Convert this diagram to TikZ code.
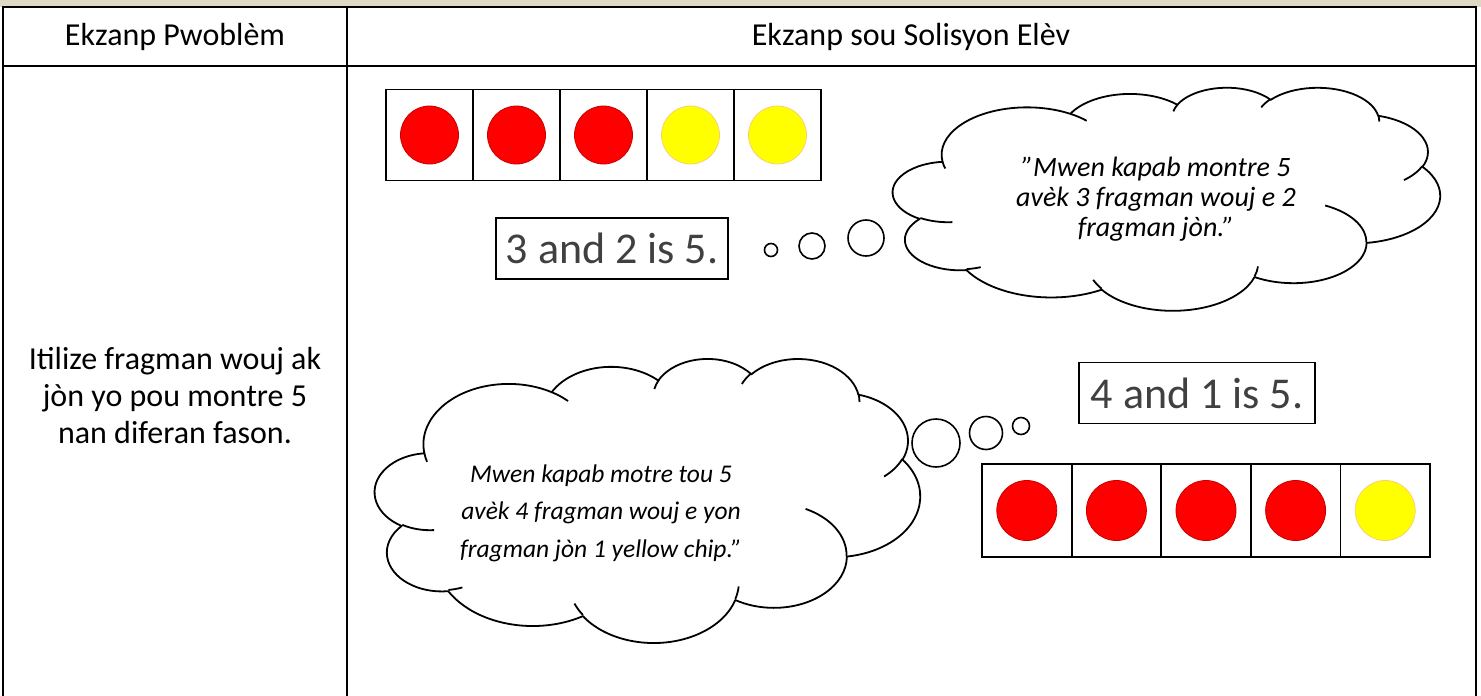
\documentclass[tikz,border=0pt]{standalone}
\usepackage{fontspec}
\setmainfont{Carlito}
\usetikzlibrary{positioning}
\definecolor{bandtan}{HTML}{DDD9C3}
\definecolor{fillred}{HTML}{FF0000}
\definecolor{edgered}{HTML}{C80000}
\definecolor{fillyellow}{HTML}{FFFF00}
\definecolor{edgeyellow}{HTML}{F8CF78}
\definecolor{sumgray}{HTML}{404040}
\tikzset{
  rule/.style={line width=2.6pt},
  frame/.style={draw, line width=1.8pt, inner sep=0pt, minimum width=87pt, minimum height=91pt},
  chip/.style={circle, inner sep=0pt, minimum size=58pt, line width=0.8pt},
  chipred/.style={chip, fill=fillred, draw=edgered},
  chipyellow/.style={chip, fill=fillyellow, draw=edgeyellow},
  sumbox/.style={draw, line width=1.8pt, text=sumgray, inner sep=0pt,
    minimum height=61pt, font=\fontsize{44}{50}\selectfont},
  bubble/.style={circle, draw, line width=1.6pt, inner sep=0pt},
  body/.style={font=\fontsize{32}{37}\selectfont, align=center},
  quote/.style={align=center},
  cloudline/.style={line width=1.8pt, line join=round},
  % arc of an ellipse, angles given as seen on the ellipse (y down)
  cloudarc/.style n args={4}{x radius=#1pt, y radius=#2pt,
    start angle={-atan2(#1*sin(#3),#2*cos(#3))},
    delta angle={-mod(atan2(#1*sin(#3+#4),#2*cos(#3+#4))-atan2(#1*sin(#3),#2*cos(#3))+720,360)}},
  thought/.pic={
    \draw[cloudline] (39,143.70)
      arc[cloudarc={67.53}{91.90}{-190.4875}{123.7805}]
      arc[cloudarc={53.33}{72.67}{-144.1024}{89.9452}]
      arc[cloudarc={43.65}{59.45}{-145.8079}{99.7230}]
      arc[cloudarc={48.57}{65.95}{-130.9861}{117.2417}]
      arc[cloudarc={53.33}{72.73}{-78.7089}{109.0269}]
      arc[cloudarc={67.75}{92.20}{-46.2673}{130.2690}]
      arc[cloudarc={57.85}{78.67}{0.6250}{114.0333}]
      arc[cloudarc={67.52}{92.15}{22.4516}{115.1726}]
      arc[cloudarc={77.20}{105.43}{66.2426}{75.7110}]
      arc[cloudarc={43.60}{59.18}{-274.9421}{146.7356}]
      arc[cloudarc={43.45}{59.45}{-246.8285}{152.5226}]
      -- cycle;
    \draw[cloudline]
      (46.93,261.77) arc[cloudarc={43.45}{59.45}{86.7420}{26.4295}]
      (69.28,348.99) arc[cloudarc={43.60}{59.18}{73.6105}{11.4475}]
      (164.78,390.90) arc[cloudarc={67.52}{92.15}{137.6242}{14.0811}]
      (288.27,347.51) arc[cloudarc={67.52}{92.15}{6.4533}{15.9984}]
      (341.29,229.54) arc[cloudarc={57.85}{78.67}{-70.2924}{70.9174}]
      (417.98,153.54) arc[cloudarc={53.33}{72.73}{30.3180}{27.7515}]
      (383.24,54.26) arc[cloudarc={48.57}{65.95}{-13.7443}{14.8589}]
      (290.78,39.52) arc[cloudarc={48.57}{65.95}{-149.1815}{18.1954}]
      (221.41,47.20) arc[cloudarc={43.65}{59.45}{-163.4943}{17.6864}]
      (140.00,51.92) arc[cloudarc={67.53}{91.90}{-66.7070}{12.3194}]
      (41.27,157.89) arc[cloudarc={67.53}{91.90}{157.6544}{11.8582}];
  }
}
\begin{document}
\begin{tikzpicture}[x=1pt, y=-1pt]
\useasboundingbox (0,0) rectangle (1481,696);
% table
\fill[bandtan] (0,0) rectangle (1481,7);
\draw[rule] (3,700) -- (3,7) -- (1476,7) -- (1476,700);
\draw[rule] (3,66) -- (1476,66);
\draw[rule] (347,7) -- (347,700);
\node[body] (headProblem) at (175,37) {Ekzanp Pwoblèm};
\node[body] (headSolution) at (911,37) {Ekzanp sou Solisyon Elèv};
\node[body] (task) at (175,396) {Itilize fragman wouj ak\\jòn yo pou montre 5\\nan diferan fason.};
% first ten-frame
\foreach \c [count=\i] in {red,red,red,yellow,yellow} {
  \node[frame] (tileA\i) at ({429.5+87*(\i-1)},135) {};
  \node[chip\c] (chipA\i) at (tileA\i) {};
}
\node[sumbox, minimum width=232pt] (sumA) at (612,248.5) {3 and 2 is 5.};
\node[bubble, minimum size=13pt] (dotA1) at (771,250) {};
\node[bubble, minimum size=26pt] (dotA2) at (812,246) {};
\node[bubble, minimum size=36pt] (dotA3) at (866,238) {};
\pic[shift={(893,87)}, xscale=1.2662, yscale=0.5162] (thoughtA) {thought};
\node[quote, font=\itshape\fontsize{28}{30}\selectfont] (sayA) at (1156,199)
  {”Mwen kapab montre 5\\avèk 3 fragman wouj e 2\\fragman jòn.”};
% second ten-frame
\pic[shift={(375,358)}, xscale=1.2616, yscale=0.6574] (thoughtB) {thought};
\node[quote, font=\itshape\fontsize{25.5}{37.5}\selectfont] (sayB) at (601,513)
  {Mwen kapab motre tou 5\\avèk 4 fragman wouj e yon\\fragman jòn 1 yellow chip.”};
\node[bubble, minimum size=48pt] (dotB1) at (936,443) {};
\node[bubble, minimum size=33pt] (dotB2) at (986,433) {};
\node[bubble, minimum size=17pt] (dotB3) at (1021,426) {};
\node[sumbox, minimum width=236pt] (sumB) at (1197,393) {4 and 1 is 5.};
\foreach \c [count=\i] in {red,red,red,red,yellow} {
  \node[frame, minimum width=89.6pt, minimum height=93pt] (tileB\i) at ({1026.8+89.6*(\i-1)},510.5) {};
  \node[chip\c, minimum size=60pt] (chipB\i) at (tileB\i) {};
}
\end{tikzpicture}
\end{document}
